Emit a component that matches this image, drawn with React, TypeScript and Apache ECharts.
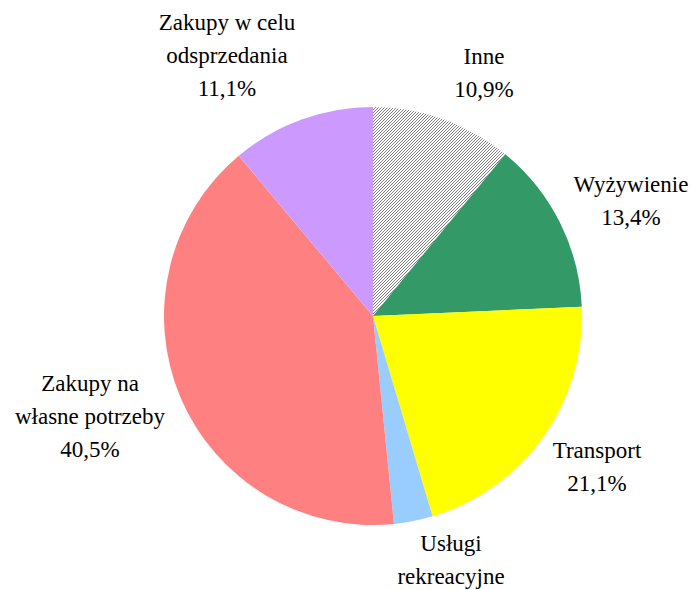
import React, { useEffect, useRef } from "react";
import * as echarts from "echarts";

// Data (clockwise from 12 o'clock)
const categories = [
  "Inne",
  "Wyżywienie",
  "Transport",
  "Usługi\nrekreacyjne",
  "Zakupy na\nwłasne potrzeby",
  "Zakupy w celu\nodsprzedania",
];
const values = [10.9, 13.4, 21.1, 3.0, 40.5, 11.1];
const showPercent = [true, true, true, false, true, true];

// Styling
const colors = ["#ffffff", "#339966", "#ffff00", "#99ccff", "#ff8080", "#cc99ff"];
// Label centre positions (px), as placed in the reference
const labelPos: [number, number][] = [
  [484, 73],
  [631, 201],
  [597, 467],
  [451, 560],
  [90, 416],
  [227, 55],
];
const LINE_H = 33;
const FONT = "Liberation Serif";

function labelLines(i: number): string[] {
  const lines = categories[i].split("\n");
  if (showPercent[i]) lines.push(`${values[i].toFixed(1).replace(".", ",")}%`);
  return lines;
}

function makeHatch(): HTMLCanvasElement {
  const c = document.createElement("canvas");
  c.width = 3;
  c.height = 3;
  const ctx = c.getContext("2d")!;
  ctx.fillStyle = "#ffffff";
  ctx.fillRect(0, 0, 3, 3);
  ctx.fillStyle = "#7f7f7f";
  ctx.fillRect(2, 0, 1, 1);
  ctx.fillRect(1, 1, 1, 1);
  ctx.fillRect(0, 2, 1, 1);
  return c;
}

export default function App() {
  const ref = useRef<HTMLDivElement>(null);
  useEffect(() => {
    if (!ref.current) return;
    const chart = echarts.init(ref.current, undefined, { renderer: "svg" });
    const hatch = makeHatch();
    const data = categories.map((name, i) => ({
      name: name.replace("\n", " "),
      value: values[i],
      itemStyle:
        i === 0
          ? { color: { image: hatch, repeat: "repeat" } }
          : { color: colors[i] },
    }));
    const texts: any[] = [];
    categories.forEach((_, i) => {
      const lines = labelLines(i);
      lines.forEach((line, k) => {
        texts.push({
          type: "text",
          x: labelPos[i][0],
          y: labelPos[i][1] + (k - (lines.length - 1) / 2) * LINE_H,
          style: {
            text: line,
            fontFamily: FONT,
            fontSize: 23,
            fill: "#000000",
            align: "center",
            verticalAlign: "middle",
          },
        });
      });
    });
    const option = {
      animation: false,
      textStyle: { fontFamily: FONT },
      series: [
        {
          type: "pie",
          center: [373, 316],
          radius: 209,
          startAngle: 90,
          clockwise: true,
          data,
          itemStyle: { borderWidth: 0 },
          emphasis: { disabled: true },
          label: { show: false },
          labelLine: { show: false },
        },
      ],
      graphic: texts,
    };
    chart.setOption(option);
    return () => chart.dispose();
  }, []);
  return (
    <div style={{ position: "fixed", left: 0, top: 0, width: 696, height: 590, background: "#fff" }}>
      <div ref={ref} style={{ width: 696, height: 590 }} />
    </div>
  );
}
